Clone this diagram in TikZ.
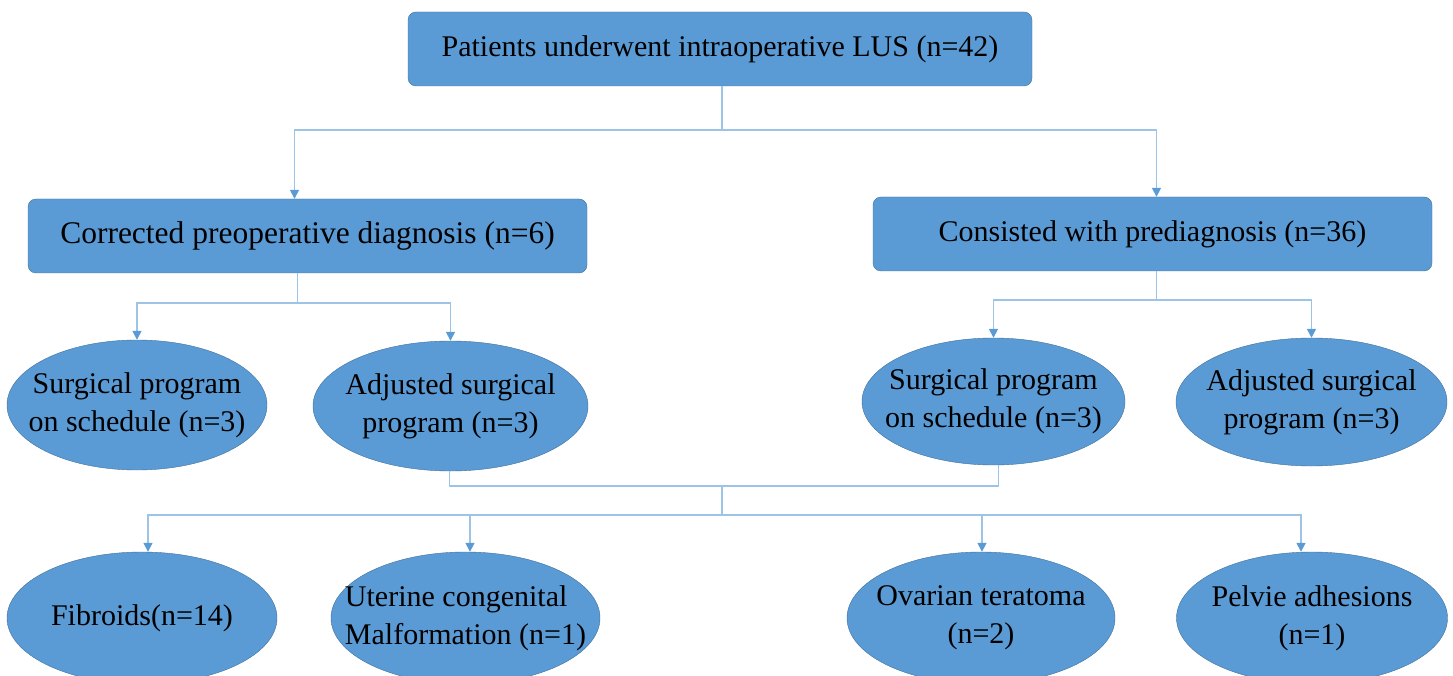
\documentclass[tikz,border=0pt]{standalone}
\usepackage{fontspec}
\setmainfont{Liberation Serif}
\usetikzlibrary{shapes.geometric,arrows.meta}

\definecolor{boxblue}{HTML}{5B9BD5}
\definecolor{edgeblue}{HTML}{41719C}
\definecolor{lineblue}{HTML}{9DC3E6}

\tikzset{
    box/.style={draw=edgeblue, fill=boxblue, rounded corners=8pt, minimum width=559pt,
      minimum height=74pt, font=\fontsize{30}{36}\selectfont},
    oval/.style={ellipse, draw=edgeblue, fill=boxblue, inner xsep=-80pt, inner ysep=-30pt,
      minimum height=130pt, align=center, font=\fontsize{30}{38}\selectfont},
    link/.style={draw=lineblue, line width=1.6pt},
    arr/.style={link, -{Triangle[width=9pt,length=9pt,color=boxblue]}},
}

\begin{document}
\begin{tikzpicture}[x=1pt,y=1pt]
    \useasboundingbox (0,0) rectangle (1453,-676);
    \clip (0,0) rectangle (1453,-676);

    \node [box, minimum width=624pt] (top) at (720,-49) {Patients underwent intraoperative LUS (n=42)};
    \node [box, font=\fontsize{31.5}{36}\selectfont] (l) at (307.5,-236) {Corrected preoperative diagnosis (n=6)};
    \node [box] (r) at (1152.5,-234) {Consisted with prediagnosis (n=36)};

    \node [oval, minimum width=260pt] (l1) at (137,-405) {Surgical program\\on schedule (n=3)};
    \node [oval, minimum width=275pt] (l2) at (450.5,-406) {Adjusted surgical\\program (n=3)};
    \node [oval, minimum width=263pt, minimum height=127pt] (r1) at (993.5,-401.5) {Surgical program\\on schedule (n=3)};
    \node [oval, minimum width=271pt, minimum height=128pt] (r2) at (1311.5,-402) {Adjusted surgical\\program (n=3)};

    \node [oval, minimum width=270pt, minimum height=132pt] (b1) at (142,-618) {Fibroids(n=14)};
    \node [oval, minimum width=269pt, minimum height=132pt, align=left] (b2) at (465.5,-618) {Uterine congenital\\Malformation (n=1)};
    \node [oval, minimum width=268pt, minimum height=132pt] (b3) at (981,-618) {Ovarian teratoma\\(n=2)};
    \node [oval, minimum width=271pt, minimum height=132pt] (b4) at (1312,-618) {Pelvie adhesions\\(n=1)};

    \draw [link] ([xshift=2pt]top.south) -- ++(0,-44) coordinate (t);
    \draw [arr] (t) -| ([xshift=-13pt]l.north);
    \draw [arr] (t) -| ([xshift=4pt]r.north);

    \draw [link] ([xshift=-10pt]l.south) -- ++(0,-30) coordinate (lm);
    \draw [arr] (lm) -| (l1.north);
    \draw [arr] (lm) -| (l2.north);

    \draw [link] ([xshift=4pt]r.south) -- ++(0,-29) coordinate (rm);
    \draw [arr] (rm) -| (r1.north);
    \draw [arr] (rm) -| (r2.north);

    \coordinate (m) at (722,-486);
    \draw [link] ([xshift=-1pt]l2.south) |- (m) -| ([xshift=5pt]r1.south);
    \draw [link] (m) -- ++(0,-29) coordinate (bm);
    \draw [arr] (bm) -| ([xshift=6pt]b1.north);
    \draw [arr] (bm) -| ([xshift=4.5pt]b2.north);
    \draw [arr] (bm) -| ([xshift=1pt]b3.north);
    \draw [arr] (bm) -| ([xshift=-11pt]b4.north);
\end{tikzpicture}
\end{document}
